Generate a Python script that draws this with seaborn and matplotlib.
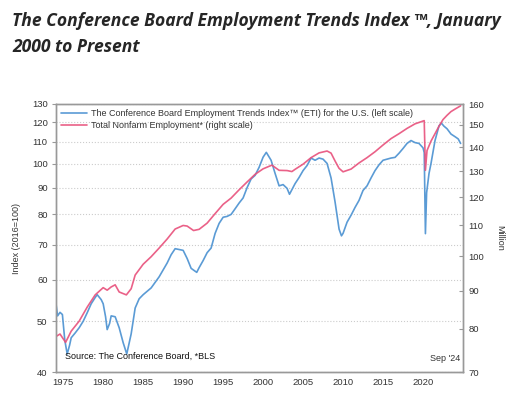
#ETI vs total nonfarm employment, two log scales
import numpy as np
import pandas as pd
import seaborn as sns
import matplotlib.pyplot as plt
from matplotlib.ticker import FixedLocator, NullLocator, FuncFormatter

# ETI (left scale, 2016=100)
eti_years = [1974.1, 1974.3, 1974.6, 1974.9, 1975.2, 1975.5, 1975.8, 1976.0, 1976.5, 1977.0,
             1977.5, 1978.0, 1978.5, 1979.0, 1979.25, 1979.75, 1980.0, 1980.3, 1980.5, 1980.8,
             1981.0, 1981.5, 1982.0, 1982.5, 1982.95, 1983.5, 1984.0, 1984.5, 1985.0, 1986.0,
             1987.0, 1988.0, 1988.5, 1989.0, 1990.0, 1990.5, 1991.0, 1991.7, 1992.0, 1992.5,
             1993.0, 1993.5, 1994.0, 1994.5, 1995.0, 1995.5, 1996.0, 1996.5, 1997.0, 1997.5,
             1998.0, 1998.5, 1999.0, 1999.5, 2000.0, 2000.4, 2001.0, 2001.5, 2002.0, 2002.5,
             2003.0, 2003.3, 2004.0, 2004.5, 2005.0, 2005.5, 2006.0, 2006.5, 2007.0, 2007.5,
             2008.0, 2008.5, 2009.0, 2009.5, 2009.8, 2010.0, 2010.5, 2011.0, 2011.5, 2012.0,
             2012.5, 2013.0, 2013.5, 2014.0, 2014.5, 2015.0, 2016.0, 2016.5, 2017.0, 2017.5,
             2018.0, 2018.5, 2019.0, 2019.5, 2020.0, 2020.15, 2020.3, 2020.45, 2020.75, 2021.0,
             2021.5, 2022.0, 2022.3, 2022.6, 2023.0, 2023.5, 2024.0, 2024.4, 2024.7]
eti_values = [54.0, 51.2, 52.0, 51.5, 46.0, 43.3, 45.0, 46.5, 47.5, 48.6,
              50.0, 51.9, 54.0, 55.5, 56.2, 55.0, 54.0, 51.0, 48.2, 49.5,
              51.2, 51.0, 48.6, 45.5, 43.3, 47.3, 53.0, 55.2, 56.2, 57.9,
              60.8, 64.6, 67.0, 68.8, 68.3, 65.9, 63.1, 62.0, 63.3, 65.3,
              67.6, 69.0, 73.6, 76.9, 79.0, 79.3, 80.0, 82.0, 84.1, 86.0,
              90.0, 93.5, 95.0, 98.4, 102.9, 105.1, 101.5, 95.8, 90.7, 91.2,
              89.7, 87.4, 91.6, 94.1, 97.0, 99.2, 102.5, 101.5, 102.5, 102.0,
              100.1, 93.9, 84.5, 75.0, 72.8, 73.6, 77.3, 79.7, 82.5, 85.1,
              88.9, 90.7, 93.9, 97.0, 99.5, 101.5, 102.5, 102.8, 104.7, 106.9,
              109.3, 110.7, 109.7, 109.3, 107.2, 105.0, 73.5, 88.0, 95.8, 100.1,
              110.7, 118.1, 119.5, 118.0, 116.6, 113.9, 112.6, 111.5, 109.3]

# total nonfarm employment (right scale, millions)
nfp_years = [1974.1, 1974.6, 1975.3, 1976.0, 1977.0, 1978.0, 1979.0, 1980.0, 1980.5, 1981.0,
             1981.5, 1982.0, 1982.9, 1983.5, 1984.0, 1985.0, 1986.0, 1987.0, 1988.0, 1989.0,
             1990.0, 1990.5, 1991.3, 1992.0, 1993.0, 1994.0, 1995.0, 1996.0, 1997.0, 1998.0,
             1999.0, 2000.0, 2001.1, 2002.0, 2003.0, 2003.6, 2004.0, 2005.0, 2006.0, 2007.0,
             2008.0, 2008.5, 2009.0, 2009.5, 2010.0, 2011.0, 2012.0, 2013.0, 2014.0, 2015.0,
             2016.0, 2017.0, 2018.0, 2019.0, 2020.15, 2020.3, 2020.5, 2021.0, 2021.5, 2022.0,
             2022.5, 2023.0, 2023.5, 2024.0, 2024.7]
nfp_values = [78.1, 78.7, 76.7, 79.4, 81.9, 85.5, 88.8, 90.8, 90.1, 91.0,
              91.6, 89.6, 88.8, 90.5, 94.4, 97.6, 99.9, 102.6, 105.5, 108.8,
              110.0, 109.8, 108.3, 108.7, 110.8, 114.1, 117.4, 119.7, 122.8, 125.8,
              128.8, 131.0, 132.5, 130.4, 130.3, 129.9, 130.8, 132.9, 135.6, 137.6,
              138.4, 137.5, 134.2, 131.2, 129.8, 130.9, 133.4, 135.6, 138.1, 141.0,
              143.8, 146.0, 148.4, 150.5, 152.0, 130.4, 138.6, 142.7, 146.0, 149.4,
              152.5, 154.5, 156.3, 157.5, 159.1]

left_ticks = [40, 50, 60, 70, 80, 90, 100, 110, 120, 130]
right_ticks = [70, 80, 90, 100, 110, 120, 130, 140, 150, 160]
year_ticks = [1975, 1980, 1985, 1990, 1995, 2000, 2005, 2010, 2015, 2020]

eti_label = 'The Conference Board Employment Trends Index\u2122 (ETI) for the U.S. (left scale)'
nfp_label = 'Total Nonfarm Employment* (right scale)'

blue = '#5b9bd5'
pink = '#e8507b'
txt = '#333333'
edge = '#999999'

sns.set_style('white')
plt.rcParams['font.family'] = ['Liberation Sans', 'DejaVu Sans']

eti_df = pd.DataFrame({'year': eti_years, 'eti': eti_values})
nfp_df = pd.DataFrame({'year': nfp_years, 'nfp': nfp_values})

fig = plt.figure(figsize=(5.25, 3.98), dpi=100)
ax = fig.add_axes([56/525, 1 - 372/398, 407/525, 268/398])
ax2 = ax.twinx()

sns.lineplot(data=eti_df, x='year', y='eti', ax=ax, color=blue, lw=1.2, label=eti_label, legend=False)
sns.lineplot(data=nfp_df, x='year', y='nfp', ax=ax2, color=pink, lw=1.2, alpha=0.9, label=nfp_label, legend=False)

ax.set_yscale('log')
ax2.set_yscale('log')
ax.set_ylim(40, 130)
ax2.set_ylim(70, 160)
ax.set_xlim(1974.1, 2025.0)

fmt = FuncFormatter(lambda v, _: f'{v:.0f}')
for a, ticks in [(ax, left_ticks), (ax2, right_ticks)]:
    a.yaxis.set_major_locator(FixedLocator(ticks))
    a.yaxis.set_minor_locator(NullLocator())
    a.yaxis.set_major_formatter(fmt)
ax.set_xticks(year_ticks)

ax.grid(axis='y', ls=':', color='#cccccc', lw=0.8)
ax.tick_params(axis='x', direction='in', length=4, color=edge, labelsize=6.8, labelcolor=txt, pad=4)
ax.tick_params(axis='y', direction='out', length=3, color=edge, labelsize=6.8, labelcolor=txt, pad=3)
ax2.tick_params(axis='y', direction='in', length=3, color=edge, labelsize=6.8, labelcolor=txt, pad=4)
for a in (ax, ax2):
    for s in a.spines.values():
        s.set_color(edge)
        s.set_linewidth(1.0)

ax.set_xlabel('')
ax.set_ylabel('Index (2016=100)', fontsize=6.5, color=txt, labelpad=8)
ax2.set_ylabel('Million', fontsize=6.5, color=txt, rotation=270, labelpad=14)

h1, l1 = ax.get_legend_handles_labels()
h2, l2 = ax2.get_legend_handles_labels()
ax2.legend(h1 + h2, l1 + l2, loc='upper left', frameon=False, fontsize=6.5,
           handlelength=2.8, handletextpad=0.5, labelspacing=0.25,
           borderaxespad=0.2, bbox_to_anchor=(0.0, 1.0), labelcolor=txt)

ax.text(0.022, 0.058, 'Source: The Conference Board, *BLS', transform=ax.transAxes,
        fontsize=6.5, color='#111111', va='center')
ax.text(0.993, 0.05, "Sep '24", transform=ax.transAxes,
        fontsize=6.5, color=txt, va='center', ha='right')

fig.text(12/525, 1 - 12/398,
         'The Conference Board Employment Trends Index \u2122, January\n2000 to Present',
         fontsize=12.6, fontweight='bold', style='italic', family=['Open Sans', 'DejaVu Sans'],
         va='top', ha='left', linespacing=1.6)

fig.savefig('out.png', dpi=100)
